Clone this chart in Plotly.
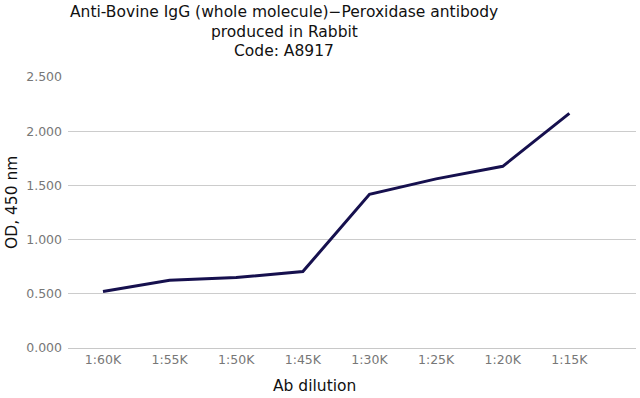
import plotly.graph_objects as go

categories = ["1:60K", "1:55K", "1:50K", "1:45K", "1:30K", "1:25K", "1:20K", "1:15K"]
od_values = [0.521, 0.625, 0.650, 0.705, 1.418, 1.560, 1.676, 2.165]
y_ticks = [0, 0.5, 1.0, 1.5, 2.0, 2.5]
y_tick_labels = ["0.000", "0.500", "1.000", "1.500", "2.000", "2.500"]
title_lines = ["Anti-Bovine IgG (whole molecule)−Peroxidase antibody", "produced in Rabbit", "Code: A8917"]

FONT = "DejaVu Sans"

plot_l, plot_r = 68, 636
plot_t, plot_b = 77, 348
pw, ph = plot_r - plot_l, plot_b - plot_t

fig = go.Figure()
fig.add_trace(go.Scatter(
    x=list(range(len(categories))), y=od_values, mode="lines",
    line=dict(color="#16104e", width=3),
    hoverinfo="skip", showlegend=False,
))

fig.update_layout(
    width=640, height=398,
    margin=dict(l=plot_l, r=640 - plot_r, t=plot_t, b=398 - plot_b),
    paper_bgcolor="white", plot_bgcolor="white",
    font=dict(family=FONT),
    xaxis=dict(
        tickmode="array", tickvals=list(range(len(categories))), ticktext=categories,
        range=[-0.525, 8.0], showgrid=False, zeroline=False,
        showline=True, linecolor="#c8c8c8", linewidth=1,
        ticks="", tickfont=dict(size=12.5, color="#777777", family=FONT),
        fixedrange=True,
    ),
    yaxis=dict(
        range=[0, 2.5], tickmode="array", tickvals=y_ticks, ticktext=y_tick_labels,
        showgrid=True, gridcolor="#cccccc", gridwidth=1, zeroline=False,
        showline=False, ticks="", ticklabelstandoff=5,
        tickfont=dict(size=12.5, color="#777777", family=FONT),
        fixedrange=True,
    ),
)

title_y = [12, 32, 51]
annotations = []
for line, yc in zip(title_lines, title_y):
    annotations.append(dict(
        text=line, x=(284 - plot_l) / pw, y=(plot_b - yc) / ph,
        xref="paper", yref="paper", xanchor="center", yanchor="middle",
        showarrow=False, font=dict(size=15.5, color="#111111", family=FONT)))
annotations.append(dict(
    text="Ab dilution", x=(314 - plot_l) / pw, y=(plot_b - 386) / ph,
    xref="paper", yref="paper", xanchor="center", yanchor="middle", showarrow=False,
    font=dict(size=15.5, color="#111111", family=FONT)))
annotations.append(dict(
    text="OD, 450 nm", x=(12 - plot_l) / pw, y=(plot_b - 203) / ph,
    xref="paper", yref="paper", xanchor="center", yanchor="middle",
    showarrow=False, textangle=-90,
    font=dict(size=15.5, color="#111111", family=FONT)))
fig.update_layout(annotations=annotations)

fig.write_html("out.html")
